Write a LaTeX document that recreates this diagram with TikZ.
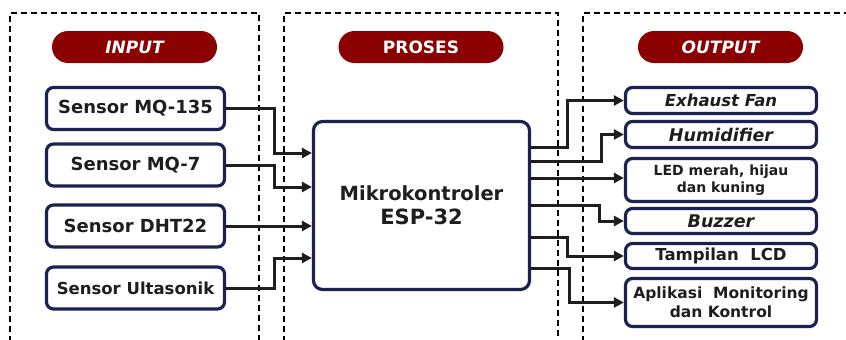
\documentclass[tikz,border=0pt]{standalone}
\usepackage{fontspec}
\setmainfont{DejaVu Sans}
\usetikzlibrary{arrows.meta}
\definecolor{pill}{HTML}{8B0000}
\definecolor{navy}{HTML}{1B2150}
\definecolor{ink}{HTML}{1E1E1E}
\begin{document}
\begin{tikzpicture}[x=1pt,y=-1pt,
  pillbox/.style={fill=pill, rounded corners=16pt, minimum width=165pt, minimum height=32pt, text=white, font=\bfseries\fontsize{17}{17}\selectfont, inner sep=0pt},
  inbox/.style={draw=navy, line width=3.2pt, rounded corners=7pt, fill=white, minimum width=178pt, minimum height=42pt, inner sep=0pt, text=ink},
  outbox/.style={draw=navy, line width=3.2pt, rounded corners=7pt, fill=white, minimum width=191pt, inner sep=0pt, text=ink, align=center},
  mcubox/.style={draw=navy, line width=3.2pt, rounded corners=9pt, fill=white, minimum width=216pt, minimum height=168pt, inner sep=0pt, text=ink, align=center, font=\bfseries\fontsize{19.5}{24}\selectfont},
  frame/.style={line width=1.7pt, dash pattern=on 6pt off 4pt},
  conn/.style={line width=3pt, draw=ink, -{Triangle[length=10pt,width=10pt]}}]
\useasboundingbox (0,0) rectangle (846,340);
% frames
\draw[frame] (10,342) -- (10,13) -- (259,13) -- (259,342);
\draw[frame] (284,342) -- (284,13) -- (558,13) -- (558,342);
\draw[frame] (583,342) -- (583,13) -- (850,13);
% headers
\node[pillbox] (pin) at (134.5,47) {\itshape INPUT};
\node[pillbox] (ppr) at (421,47) {PROSES};
\node[pillbox] (pout) at (720.5,47) {\itshape OUTPUT};
% inputs
\node[inbox, font=\bfseries\fontsize{18}{18}\selectfont] (s1) at (135.5,108.5) {Sensor MQ-135};
\node[inbox, font=\bfseries\fontsize{18}{18}\selectfont] (s2) at (135.5,165) {Sensor MQ-7};
\node[inbox, font=\bfseries\fontsize{18}{18}\selectfont] (s3) at (135.5,226) {Sensor DHT22};
\node[inbox, font=\bfseries\fontsize{16.5}{18}\selectfont] (s4) at (135.5,288) {Sensor Ultasonik};
% mcu
\node[mcubox] (mcu) at (421.5,205.5) {Mikrokontroler\\{\fontsize{21}{24}\selectfont ESP-32}};
% outputs
\node[outbox, minimum height=26pt, font=\bfseries\itshape\fontsize{16.5}{18}\selectfont] (o1) at (721,100.5) {Exhaust Fan};
\node[outbox, minimum height=26pt, font=\bfseries\itshape\fontsize{17.5}{18}\selectfont] (o2) at (721,134.5) {Humidifier};
\node[outbox, minimum height=43pt, font=\bfseries\fontsize{14}{16.5}\selectfont] (o3) at (721,180) {LED merah, hijau\\dan kuning};
\node[outbox, minimum height=25pt, font=\bfseries\itshape\fontsize{17.5}{18}\selectfont] (o4) at (721,221) {Buzzer};
\node[outbox, minimum height=25pt, font=\bfseries\fontsize{16.5}{18}\selectfont] (o5) at (721,256) {Tampilan\ \ LCD};
\node[outbox, minimum height=48pt, font=\bfseries\fontsize{15.5}{19}\selectfont] (o6) at (721,302.5) {Aplikasi\ \ Monitoring\\dan Kontrol};
% input connectors
\draw[conn] (s1.east) -| (274,153) -- (mcu.west |- 274,153);
\draw[conn] (s2.east) -| (274,187) -- (mcu.west |- 274,187);
\draw[conn] (s3.east) -- (s3.east -| mcu.west);
\draw[conn] (s4.east) -| (274,258) -- (mcu.west |- 274,258);
% output connectors
\draw[conn] (mcu.east |- 0,147) -| (567,100.5) -- (o1.west);
\draw[conn] (mcu.east |- 0,161) -| (601,134.5) -- (o2.west);
\draw[conn] (mcu.east |- 0,178) -- (o3.west |- 0,178);
\draw[conn] (mcu.east |- 0,205) -| (599,221) -- (o4.west);
\draw[conn] (mcu.east |- 0,237) -| (567,256) -- (o5.west);
\draw[conn] (mcu.east |- 0,268) -| (569,302.5) -- (o6.west);
\end{tikzpicture}
\end{document}
